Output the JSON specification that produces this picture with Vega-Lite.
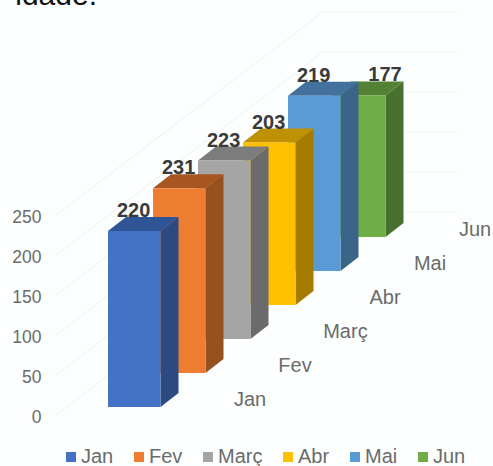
{"$schema":"https://vega.github.io/schema/vega-lite/v6.json","width":448,"height":466,"autosize":{"type":"none"},"padding":{"left":45,"top":0,"right":0,"bottom":0},"background":"#fcfffe","view":{"stroke":null},"config":{"font":"Liberation Sans"},"datasets":{"sales":[{"month":"Jun","idx":5,"value":177},{"month":"Mai","idx":4,"value":219},{"month":"Abr","idx":3,"value":203},{"month":"Març","idx":2,"value":223},{"month":"Fev","idx":1,"value":231},{"month":"Jan","idx":0,"value":220}],"ticks":[{"tick":0},{"tick":50},{"tick":100},{"tick":150},{"tick":200},{"tick":250}],"caption":[{"caption":"idade."}]},"layer":[{"data":{"name":"ticks"},"transform":[{"calculate":"[{x:-1.178,r:0},{x:4.778,r:255},{x:7.756,r:255}]","as":"c"},{"flatten":["c"]},{"calculate":"datum.c.x","as":"gx"},{"calculate":"datum.tick+datum.c.r","as":"gy"}],"mark":{"type":"line","color":"#f0f2f1","strokeWidth":1},"encoding":{"x":{"field":"gx","type":"quantitative","sort":null,"scale":{"domain":[-1.4,8.5556],"nice":false,"zero":false},"axis":null},"y":{"field":"gy","type":"quantitative","scale":{"domain":[-62.5,520],"nice":false,"zero":false},"axis":{"values":[0,50,100,150,200,250],"title":null,"domain":false,"ticks":false,"grid":false,"labelPadding":4,"labelOffset":1,"labelFontSize":17.5,"labelColor":"#6b6b6b","labelFont":"Liberation Sans"}},"detail":{"field":"tick"}}},{"data":{"name":"sales"},"transform":[{"calculate":"[{f:' side',cx:1,cd:0,lv:0,lh:0,hv:1,hh:0},{f:' side',cx:1,cd:1,lv:0,lh:1,hv:1,hh:1},{f:' top',cx:0,cd:0,lv:1,lh:0,hv:1,hh:0},{f:' top',cx:0,cd:1,lv:1,lh:0,hv:1,hh:1},{f:' top',cx:1,cd:0,lv:1,lh:0,hv:1,hh:1},{f:' top',cx:1,cd:1,lv:1,lh:1,hv:1,hh:1},{f:'',cx:0,cd:0,lv:0,lh:0,hv:1,hh:0},{f:'',cx:1,cd:0,lv:0,lh:0,hv:1,hh:0}]","as":"c"},{"flatten":["c"]},{"calculate":"datum.month+datum.c.f","as":"face"},{"calculate":"datum.idx+datum.c.cx*1.167+datum.c.cd*0.4","as":"px"},{"calculate":"11.25+42.5*datum.idx+datum.c.lv*datum.value+datum.c.lh*17.5","as":"lo"},{"calculate":"11.25+42.5*datum.idx+datum.c.hv*datum.value+datum.c.hh*17.5","as":"hi"}],"mark":{"type":"area","opacity":1},"encoding":{"x":{"field":"px","type":"quantitative"},"y":{"field":"lo","type":"quantitative","stack":null},"y2":{"field":"hi"},"color":{"field":"face","type":"nominal","scale":{"domain":["Jan","Fev","Març","Abr","Mai","Jun","Jan side","Fev side","Març side","Abr side","Mai side","Jun side","Jan top","Fev top","Març top","Abr top","Mai top","Jun top"],"range":["#4472C4","#ED7D31","#A5A5A5","#FFC000","#5B9BD5","#70AD47","#2C4A80","#95511F","#6B6B6B","#A67C00","#3B6489","#48702E","#2F5597","#A8561F","#7C7C7C","#BF9000","#41719C","#548235"]},"legend":{"values":["Jan","Fev","Març","Abr","Mai","Jun"],"orient":"none","direction":"horizontal","columns":6,"legendX":16,"legendY":447,"title":null,"symbolType":"square","symbolSize":100,"symbolStrokeWidth":0,"labelFontSize":20,"labelColor":"#6b6b6b","labelFont":"Liberation Sans","labelOffset":0,"columnPadding":15,"padding":0}}}},{"data":{"name":"sales"},"transform":[{"calculate":"datum.idx+3.156+(datum.idx==2?0.12:0)","as":"lx"},{"calculate":"42.5*datum.idx+20","as":"ly"}],"mark":{"type":"text","fontSize":20,"color":"#6b6b6b","font":"Liberation Sans","align":"center","baseline":"middle"},"encoding":{"x":{"field":"lx","type":"quantitative"},"y":{"field":"ly","type":"quantitative"},"text":{"field":"month"}}},{"data":{"name":"sales"},"transform":[{"calculate":"datum.idx+(datum.idx==5?1.156:0.57)","as":"vx"},{"calculate":"11.25+42.5*datum.idx+datum.value+25","as":"vy"}],"mark":{"type":"text","fontSize":20,"fontWeight":"bold","color":"#3a3a3a","font":"Liberation Sans","align":"center","baseline":"middle"},"encoding":{"x":{"field":"vx","type":"quantitative"},"y":{"field":"vy","type":"quantitative"},"text":{"field":"value","type":"quantitative"}}},{"data":{"name":"caption"},"mark":{"type":"text","fontSize":30,"color":"#111111","font":"Liberation Sans","align":"right","baseline":"alphabetic"},"encoding":{"x":{"datum":-0.244,"type":"quantitative"},"y":{"datum":513.75,"type":"quantitative"},"text":{"field":"caption"}}}]}
